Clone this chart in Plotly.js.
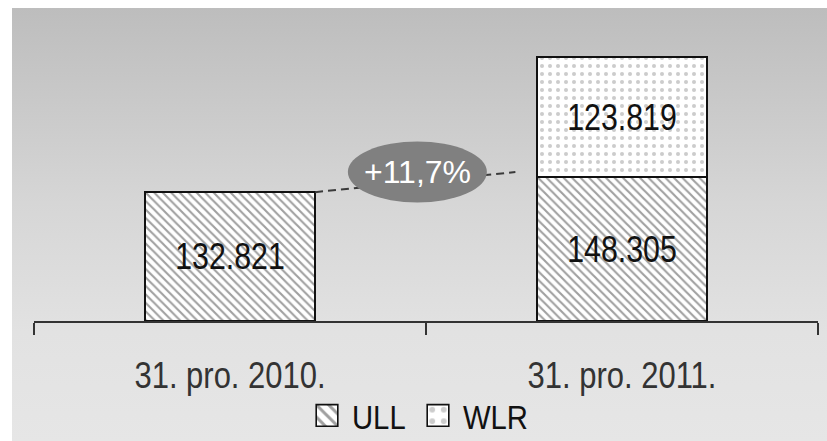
<!DOCTYPE html>
<html>
<head>
<meta charset="utf-8">
<script src="https://cdn.plot.ly/plotly-3.0.1.min.js"></script>
<style>
  html, body { margin: 0; padding: 0; background: #ffffff; }
  #bg { position: absolute; left: 12px; top: 8px; width: 815px; height: 433px;
        background: linear-gradient(to bottom, #bdbdbd 0%, #d6d6d6 45%, #e2e2e2 75%, #e6e6e6 100%); }
  #chart { position: absolute; left: 0; top: 0; width: 827px; height: 441px; }
</style>
</head>
<body>
<div id="bg"></div>
<div id="chart"></div>
<script>
// ---- data ----
const categories = ['31. pro. 2010.', '31. pro. 2011.'];
const ullValues = [132821, 148305];
const wlrValues = [null, 123819];
const seriesNames = ['ULL', 'WLR'];
const growthLabel = '+11,7%';

const FONT = '"Liberation Sans", Arial, sans-serif';
const barGap = 0.566;
const barHalf = (1 - barGap) / 2;

const ull = {
  type: 'bar', name: seriesNames[0], x: categories, y: ullValues,
  texttemplate: '%{y:,.0f}', textposition: 'inside', insidetextanchor: 'middle',
  textfont: { family: FONT, size: 37, color: '#111111' },
  marker: { color: '#ffffff', line: { color: '#111111', width: 2 },
            pattern: { shape: '\\', fgcolor: '#a0a0a0', bgcolor: '#ffffff', size: 6, solidity: 0.35 } },
  hoverinfo: 'skip'
};
const wlr = {
  type: 'bar', name: seriesNames[1], x: categories, y: wlrValues,
  texttemplate: '%{y:,.0f}', textposition: 'inside', insidetextanchor: 'middle',
  textfont: { family: FONT, size: 37, color: '#111111' },
  marker: { color: '#ffffff', line: { color: '#111111', width: 2 },
            pattern: { shape: '.', fgcolor: '#cccccc', bgcolor: '#ffffff', size: 8, solidity: 0.2 } },
  hoverinfo: 'skip'
};

const layout = {
  width: 827, height: 441,
  margin: { l: 33.5, r: 9, t: 30, b: 120, autoexpand: false },
  paper_bgcolor: 'rgba(0,0,0,0)', plot_bgcolor: 'rgba(0,0,0,0)',
  barmode: 'stack', bargap: barGap,
  separators: ',.',
  showlegend: true,
  legend: { orientation: 'h', x: 0.5, xref: 'container', xanchor: 'center',
            y: 0.057, yref: 'container', yanchor: 'middle',
            font: { family: FONT, size: 34, color: '#111111' }, bgcolor: 'rgba(0,0,0,0)',
            itemwidth: 30, traceorder: 'normal' },
  xaxis: {
    type: 'category', range: [-0.5, 1.5], showgrid: false, zeroline: false, automargin: false,
    showline: true, linecolor: '#333333', linewidth: 2,
    ticks: 'outside', tickson: 'boundaries', ticklen: 12, tickwidth: 2, tickcolor: '#333333',
    tickfont: { family: FONT, size: 36, color: '#333333' }, ticklabelstandoff: 22
  },
  yaxis: { range: [0, 300000], visible: false, showgrid: false, zeroline: false, fixedrange: true, automargin: false },
  shapes: [
    { type: 'line', xref: 'x', yref: 'y', x0: 0 + barHalf, y0: ullValues[0], x1: 0.728, y1: 153608,
      line: { color: '#3a3a3a', width: 2, dash: '8px,5px' }, layer: 'above' },
    { type: 'circle', xref: 'x', yref: 'y', x0: 0.3007, x1: 0.6553, y0: 122165, y1: 185051,
      fillcolor: '#808080', line: { width: 0 }, layer: 'above' }
  ],
  annotations: [
    { xref: 'x', yref: 'y', x: 0.478, y: 153608, text: growthLabel, showarrow: false,
      font: { family: FONT, size: 32, color: '#ffffff' }, xanchor: 'center', yanchor: 'middle' }
  ]
};

Plotly.newPlot('chart', [ull, wlr], layout, { displayModeBar: false, staticPlot: true }).then(function (gd) {
  // narrow (condensed) look of the original typeface
  function condense(sel, f) {
    gd.querySelectorAll(sel).forEach(function (t) {
      if (!t.textContent.trim()) return;
      var len = t.getComputedTextLength();
      t.setAttribute('textLength', (len * f).toFixed(2));
      t.setAttribute('lengthAdjust', 'spacingAndGlyphs');
    });
  }
  condense('.bartext', 0.82);
  condense('.xtick text', 0.86);
  condense('.legend text.legendtext', 0.86);

  // legend: larger swatches and the original spacing
  gd.querySelectorAll('.legend [clip-path]').forEach(function (e) { e.removeAttribute('clip-path'); });
  var swatchCenters = [327, 438];
  var textGapPx = 25;
  var origin = gd.getBoundingClientRect();
  gd.querySelectorAll('.legend g.traces').forEach(function (item, i) {
    var path = item.querySelector('.legendpoints path');
    path.setAttribute('transform', 'scale(1.8)');
    path.setAttribute('vector-effect', 'non-scaling-stroke');
    path.style.strokeWidth = '1.6px';
    var r = path.getBoundingClientRect();
    var dx = swatchCenters[i] - (r.left - origin.left + r.width / 2);
    var m = /translate\(\s*([-\d.e]+)[ ,]+([-\d.e]+)\s*\)/.exec(item.getAttribute('transform') || '');
    var tx = m ? parseFloat(m[1]) : 0, ty = m ? parseFloat(m[2]) : 0;
    item.setAttribute('transform', 'translate(' + (tx + dx) + ',' + ty + ')');
    var txt = item.querySelector('text.legendtext');
    var tr = txt.getBoundingClientRect();
    var want = swatchCenters[i] + textGapPx;
    var cur = tr.left - origin.left;
    txt.setAttribute('x', parseFloat(txt.getAttribute('x') || 0) + (want - cur));
  });
});
</script>
</body>
</html>
